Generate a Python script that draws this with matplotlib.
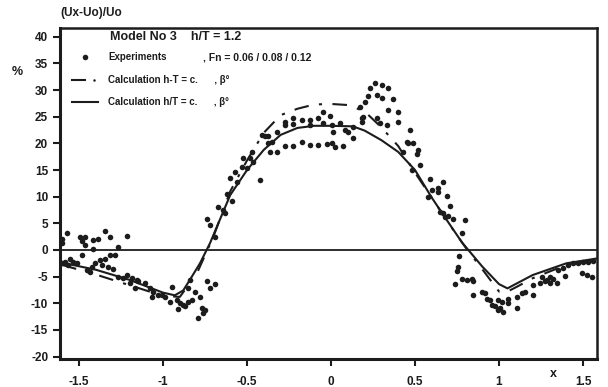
import matplotlib
matplotlib.use("Agg")
import matplotlib.pyplot as plt
import numpy as np

plt.rcParams['font.family'] = ['Liberation Sans', 'DejaVu Sans']

# Calculation h/T = c. (solid)
solid_x = [-1.6, -1.4, -1.2, -1.0, -0.93, -0.88, -0.84, -0.78, -0.72, -0.6, -0.5, -0.4, -0.3, -0.2,
           -0.1, 0.0, 0.13, 0.2, 0.3, 0.4, 0.5, 0.6, 0.7, 0.78, 0.9, 1.0, 1.05, 1.2, 1.4, 1.58]
solid_y = [-2.4, -3.7, -5.6, -8.0, -8.5, -7.6, -5.6, -2.5, 1.3, 10.3, 15.0, 18.8, 21.6, 22.9,
           23.3, 23.3, 23.2, 22.4, 20.6, 18.4, 15.0, 9.8, 5.1, 1.4, -3.1, -6.4, -7.2, -4.7, -2.5, -1.6]

# Calculation h-T = c. (dash-dot)
dash_x = [-1.6, -1.4, -1.2, -1.0, -0.9, -0.8, -0.7, -0.6, -0.5, -0.4, -0.3, -0.2, -0.1, 0.0, 0.1,
          0.2, 0.3, 0.4, 0.5, 0.6, 0.7, 0.8, 0.9, 1.0, 1.05, 1.1, 1.2, 1.4, 1.58]
dash_y = [-2.8, -4.6, -6.6, -8.6, -8.8, -4.5, 2.5, 11.0, 16.8, 22.0, 25.3, 26.5, 27.3, 27.4, 27.2,
          26.0, 23.0, 19.5, 14.5, 9.8, 5.0, 0.5, -3.6, -7.8, -7.8, -7.0, -5.3, -2.8, -1.8]

# Experiments
exp_x = [-1.573, -1.60, -1.60, -1.345, -1.315, -1.216, -1.494, -1.464, -1.484, -1.464, -1.415, -1.389,
         -1.266, -1.415,
         -1.603, -1.583, -1.554, -1.534, -1.564, -1.514, -1.484, -1.454, -1.424, -1.435, -1.405, -1.375,
         -1.365, -1.345, -1.315, -1.286, -1.326, -1.296, -1.266, -1.236, -1.216, -1.186, -1.157, -1.167,
         -1.196, -1.147, -1.107, -1.077, -1.058, -1.067, -1.028, -1.008, -0.988, -0.948, -0.958, -0.918,
         -0.899, -0.869, -0.909, -0.849, -0.829, -0.839, -0.849, -0.810, -0.780, -0.740, -0.720, -0.690,
         -0.770, -0.750, -0.760, -0.790, -0.879,
         -0.690, -0.740, -0.720, -0.671, -0.641, -0.631, -0.621, -0.591, -0.601, -0.571, -0.561, -0.532,
         -0.502, -0.522, -0.482, -0.472, -0.463, -0.423, -0.413, -0.393, -0.373, -0.373, -0.353, -0.363,
         -0.323, -0.323,
         -0.274, -0.224, -0.174, -0.125, -0.076, -0.026, 0.004, 0.024, 0.073, 0.133,
         -0.274, -0.274, -0.224, -0.224, -0.174, -0.125, -0.125, -0.076, -0.046, -0.006, -0.046, 0.004,
         0.014, 0.054, 0.083, 0.103, 0.133,
         0.183, 0.183, 0.192, 0.173, 0.202, 0.222, 0.232, 0.262, 0.302, 0.341, 0.272, 0.302, 0.371,
         0.341, 0.401, 0.272, 0.292, 0.332, 0.401, 0.451,
         0.470, 0.460, 0.490, 0.520, 0.510, 0.430, 0.530, 0.480, 0.589, 0.668, 0.599, 0.639, 0.639,
         0.579, 0.689, 0.708, 0.649, 0.668, 0.679, 0.698, 0.728, 0.798, 0.778, 0.764, 0.758, 0.748,
         0.738, 0.778, 0.808, 0.838, 0.847, 0.847, 0.897, 0.917, 0.927, 0.946, 0.957, 0.976, 0.996,
         1.016, 1.006, 0.996, 1.026, 1.055, 1.055, 1.105, 1.135, 1.155, 1.105, 1.204, 1.204, 1.244,
         1.274, 1.284, 1.304, 1.323, 1.343, 1.254, 1.304, 1.393, 1.353, 1.383, 1.412, 1.442, 1.472,
         1.502, 1.532, 1.561, 1.492, 1.522, 1.552]
exp_y = [3.2, 2.0, 1.4, 3.6, 2.4, 2.6, 2.4, 2.5, 1.6, 0.9, 1.9, 2.0,
         0.6, 0.1,
         -2.5, -2.2, -1.7, -2.2, -2.8, -2.5, -0.9, -3.8, -3.1, -4.1, -2.5, -1.9,
         -2.8, -1.7, -0.9, -0.9, -3.1, -3.6, -5.0, -5.3, -4.7, -5.3, -5.6, -7.2,
         -6.2, -5.9, -6.2, -7.2, -7.8, -8.8, -8.4, -8.4, -8.8, -6.9, -9.7, -9.4,
         -10.0, -10.6, -11.1, -9.7, -9.4, -5.6, -7.2, -7.8, -8.8, -5.9, -7.2, -6.4,
         -10.9, -11.3, -11.9, -12.8, -10.3,
         2.5, 5.9, 4.7, 8.1, 7.5, 6.9, 10.6, 9.1, 13.5, 14.7, 12.8, 15.6,
         15.3, 17.2, 17.2, 18.4, 16.6, 13.1, 21.6, 21.3, 21.3, 20.0, 20.3, 18.4,
         18.3, 22.2,
         19.5, 19.5, 20.3, 19.7, 19.7, 19.9, 20.1, 19.3, 19.5, 21.0,
         24.1, 23.5, 24.7, 23.6, 24.4, 24.4, 23.5, 24.7, 25.9, 25.1, 23.8, 23.5,
         22.2, 23.8, 22.5, 22.2, 23.0,
         24.7, 24.1, 25.0, 26.9, 27.8, 28.8, 30.3, 31.3, 31.0, 30.3, 29.1, 28.5, 28.3,
         26.3, 25.9, 24.7, 23.8, 23.5, 24.1, 20.3,
         22.5, 20.1, 20.0, 18.8, 18.0, 18.3, 15.9, 15.1, 13.3, 12.8, 11.3, 11.6, 10.8,
         10.0, 10.1, 8.3, 7.2, 6.9, 6.1, 6.4, 5.8, 5.6, 3.2, -1.1, -3.1, -3.9,
         -6.4, -5.5, -5.6, -5.5, -5.9, -8.4, -7.8, -8.1, -9.1, -9.4, -10.3, -10.6, -9.4,
         -9.7, -10.9, -11.3, -11.6, -9.1, -9.9, -8.8, -8.1, -7.8, -10.9, -6.6, -8.4, -6.2,
         -5.9, -5.6, -6.2, -5.5, -6.2, -5.1, -5.1, -4.9, -3.8, -3.4, -2.8, -2.5, -2.5,
         -2.2, -2.2, -2.0, -4.4, -4.7, -5.0]

xticks = [-1.5, -1, -0.5, 0, 0.5, 1, 1.5]
xtick_labels = ['-1.5', '-1', '-0.5', '0', '0.5', '1', '1.5']
yticks = [40, 35, 30, 25, 20, 15, 10, 5, 0, -5, -10, -15, -20]
ytick_labels = ['40', '35', '30', '25', '20', '15', '10', '5', '0', '-5', '-10', '-15', '-20']

INK = '#1c1c1c'
W, H = 608, 387
fig = plt.figure(figsize=(W / 100, H / 100), dpi=100)
ax = fig.add_axes([60 / W, 1 - 359 / H, (597 - 60) / W, (359 - 28) / H])

ax.axhline(0, color=INK, lw=1.3, zorder=1)
ax.plot(solid_x, solid_y, color=INK, lw=1.5, zorder=2)
ax.plot(dash_x, dash_y, color=INK, lw=1.5, dashes=(7, 5, 1.5, 5), zorder=2)
ax.plot(exp_x, exp_y, 'o', color=INK, ms=4.0, mew=0, zorder=3)

ax.set_xlim(-1.613, 1.583)
ax.set_ylim(-20.45, 41.65)
ax.set_xticks(xticks)
ax.set_xticklabels(xtick_labels)
ax.set_yticks(yticks)
ax.set_yticklabels(ytick_labels)
ax.tick_params(direction='out', length=5, width=1.5, color=INK, labelcolor=INK,
               labelsize=8.5)
for lab in ax.get_xticklabels() + ax.get_yticklabels():
    lab.set_fontweight('bold')
ax.tick_params(axis='x', pad=7)
for s in ax.spines.values():
    s.set_linewidth(1.8)
    s.set_color(INK)
ax.spines['left'].set_linewidth(2.2)
ax.spines['bottom'].set_linewidth(2.2)


def ftext(x, y, s, **kw):
    fig.text(x / W, 1 - y / H, s, color=INK, va='center', fontweight='bold', **kw)


ftext(60, 13, '(Ux-Uo)/Uo', fontsize=8.5, ha='left')
ftext(12, 72, '%', fontsize=9, ha='left')
ftext(553, 374, 'x', fontsize=9, ha='center')

ftext(110, 37, 'Model No 3    h/T = 1.2', fontsize=9, ha='left')
ftext(108, 57, 'Experiments', fontsize=7, ha='left')
ftext(203, 57, ', Fn = 0.06 / 0.08 / 0.12', fontsize=7.5, ha='left')
ftext(108, 80, 'Calculation h-T = c.      , β°', fontsize=7, ha='left')
ftext(108, 102, 'Calculation h/T = c.      , β°', fontsize=7, ha='left')

# legend symbols
fig.lines.append(plt.Line2D([85 / W], [1 - 57 / H], marker='o', ms=4.0, mew=0, color=INK,
                            transform=fig.transFigure))
fig.lines.append(plt.Line2D([72 / W, 85 / W], [1 - 80 / H, 1 - 80 / H], lw=1.5, color=INK,
                            transform=fig.transFigure))
fig.lines.append(plt.Line2D([94 / W], [1 - 80 / H], marker='o', ms=1.8, mew=0, color=INK,
                            transform=fig.transFigure))
fig.lines.append(plt.Line2D([72 / W, 98 / W], [1 - 102 / H, 1 - 102 / H], lw=1.5, color=INK,
                            transform=fig.transFigure))

fig.savefig('out.png', dpi=100, facecolor='white')
